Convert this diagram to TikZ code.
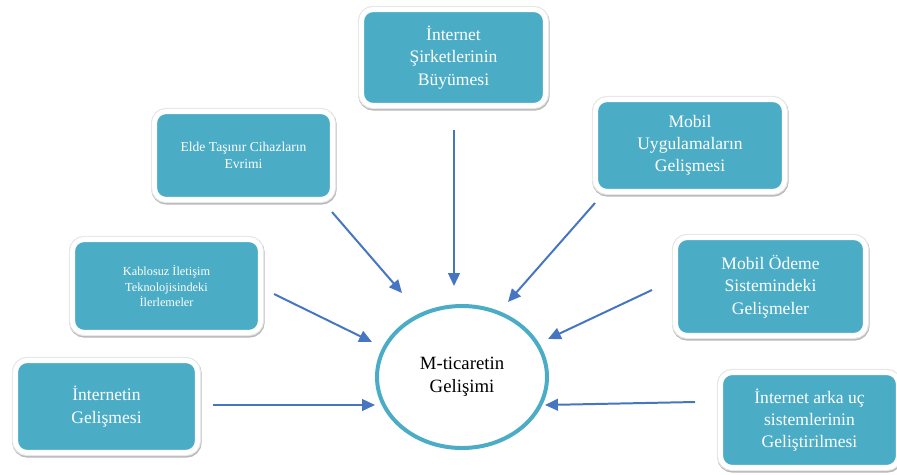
\documentclass[tikz,border=0pt]{standalone}
\usepackage{fontspec}
\setmainfont{Liberation Serif}
\usepackage{tikz}
\usetikzlibrary{arrows.meta, positioning, shapes.geometric}

\definecolor{boxteal}{HTML}{4BACC6}
\definecolor{arrowblue}{HTML}{4676C2}

\begin{document}
\begin{tikzpicture}[x=0.03cm, y=-0.03cm, every node/.style={align=center, inner sep=0pt},
  box/.style={rectangle, rounded corners=10pt, fill=boxteal, draw=white, line width=4.3pt,
    text=white, font=\fontsize{15}{19}\selectfont,
    preaction={draw=black!28, line width=6.4pt, transform canvas={shift={(0.4pt,-1.2pt)}}},
    preaction={draw=black!10, line width=6.2pt}},
  smallbox/.style={box, font=\fontsize{10.5}{13.5}\selectfont},
  hub/.style={ellipse, draw=boxteal, line width=3.4pt, fill=white,
    minimum width=5.1cm, minimum height=4.26cm, font=\fontsize{16}{19.5}\selectfont},
  arr/.style={-{Triangle[length=11pt, width=10pt]}, draw=arrowblue, line width=1.7pt}]
  \useasboundingbox (0,0) rectangle (897,474);
  \clip (0,0) rectangle (897,474);

  % centre
  \node[hub] (hub) at (462,377) {M-ticaretin\\Gelişimi};

  % boxes round the centre
  \node[box, minimum width=5.52cm, minimum height=2.88cm] (sirket) at (453.5,57.5)
    {İnternet\\Şirketlerinin\\Büyümesi};
  \node[smallbox, font=\fontsize{11.6}{14}\selectfont, minimum width=5.34cm, minimum height=2.64cm]
    (elde) at (243.5,155.5) {Elde Taşınır Cihazların\\Evrimi};
  \node[smallbox, minimum width=5.64cm, minimum height=2.79cm] (kablosuz) at (166.5,286)
    {Kablosuz İletişim\\Teknolojisindeki\\İlerlemeler};
  \node[box, minimum width=5.46cm, minimum height=2.76cm] (internet) at (106.5,406.5)
    {İnternetin\\Gelişmesi};
  \node[box, minimum width=5.67cm, minimum height=2.76cm] (uygulama) at (690,145.5)
    {Mobil\\Uygulamaların\\Gelişmesi};
  \node[box, minimum width=5.70cm, minimum height=2.94cm] (odeme) at (770.5,286.5)
    {Mobil Ödeme\\Sistemindeki\\Gelişmeler};
  \node[box, minimum width=5.34cm, minimum height=2.85cm] (arka) at (809.5,420)
    {İnternet arka uç\\sistemlerinin\\Geliştirilmesi};

  % free ends of the arrows
  \coordinate (sirket-out) at (454,130);
  \coordinate (hub-n) at (454,286);
  \coordinate (elde-out) at (332,212);
  \coordinate (hub-nw) at (402,293);
  \coordinate (kablosuz-out) at (274,294);
  \coordinate (hub-wnw) at (372,342);
  \coordinate (internet-out) at (213,405);
  \coordinate (hub-w) at (375,405);
  \coordinate (uygulama-out) at (595,203);
  \coordinate (hub-ne) at (508,302);
  \coordinate (odeme-out) at (652,290);
  \coordinate (hub-ene) at (548,339);
  \coordinate (arka-out) at (695,402);
  \coordinate (hub-e) at (545,405);

  % arrows
  \draw[arr] (sirket-out) -- (hub-n);
  \draw[arr] (elde-out) -- (hub-nw);
  \draw[arr] (kablosuz-out) -- (hub-wnw);
  \draw[arr] (internet-out) -- (hub-w);
  \draw[arr] (uygulama-out) -- (hub-ne);
  \draw[arr] (odeme-out) -- (hub-ene);
  \draw[arr] (arka-out) -- (hub-e);
\end{tikzpicture}
\end{document}
